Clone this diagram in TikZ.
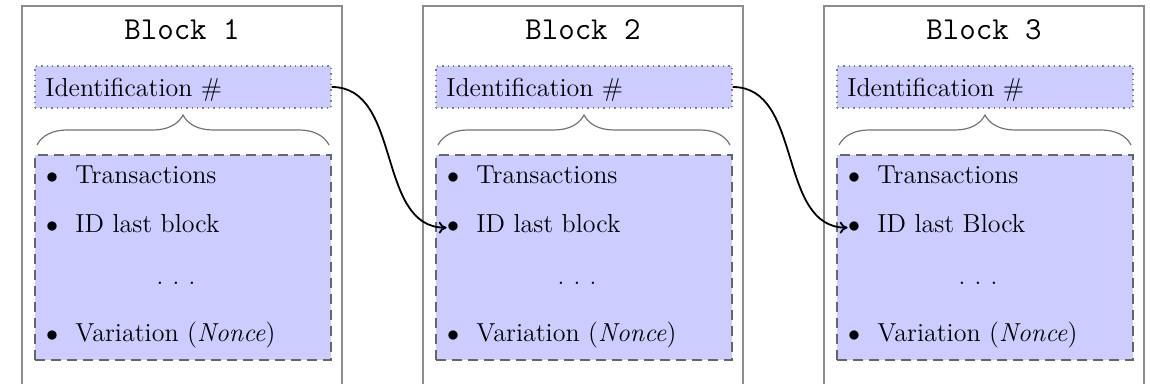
\documentclass[tikz,border=0pt]{standalone}
\usetikzlibrary{decorations.pathreplacing,arrows.meta}
\tikzset{
  frame/.style={draw=black!45,line width=0.7pt},
  idbox/.style={draw=black!50,fill=blue!20,dotted,line width=0.7pt,minimum width=148pt,minimum height=21pt,inner sep=0pt},
  listbox/.style={draw=black!60,fill=blue!20,dash pattern=on 5pt off 3pt,line width=0.7pt,minimum width=148pt,minimum height=102.5pt,inner sep=0pt},
  bracestyle/.style={draw=black!55,line width=0.6pt,decorate,decoration={brace,amplitude=15pt}},
  title/.style={font=\fontsize{16}{19}\selectfont\ttfamily,anchor=base,inner sep=0pt},
  txt/.style={font=\fontsize{13}{15}\selectfont,anchor=base west,inner sep=0pt},
  bul/.style={font=\fontsize{12.5}{15}\selectfont,anchor=base,inner sep=0pt},
  link/.style={-{To[length=4pt,width=6pt]},line width=0.9pt,black}
}
\begin{document}
\begin{tikzpicture}[x=0.5pt,y=-0.5pt]
\useasboundingbox (0,0) rectangle (1150,384);
\foreach \i/\lbl in {1/block,2/block,3/Block}{
  \pgfmathsetmacro{\o}{(\i-1)*401}
  \draw[frame] (22+\o,384) -- (22+\o,6) -- (342+\o,6) -- (342+\o,384);
  \node[title] (t\i) at (182+\o,40) {Block \i};
  \node[idbox] (id\i) at (183+\o,87) {};
  \node[txt] (idt\i) at (45+\o,97) {Identification \#};
  \draw[bracestyle] (37+\o,145) -- (329+\o,145);
  \node[listbox] (lb\i) at (183+\o,257.5) {};
  \node[bul] (ba\i) at (52+\o,184) {$\bullet$};
  \node[txt] (ta\i) at (75+\o,184) {Transactions};
  \node[bul] (bl\i) at (52+\o,233) {$\bullet$};
  \node[txt] (tb\i) at (75+\o,233) {ID last \lbl};
  \node[bul] (dd\i) at (176+\o,285) {.\hspace{4.6pt}.\hspace{4.6pt}.};
  \node[bul] (bc\i) at (52+\o,342) {$\bullet$};
  \node[txt] (tc\i) at (75+\o,342) {Variation (\textit{Nonce})};
}
\draw[link] (id1.east) to[out=0,in=180] (bl2.west);
\draw[link] (id2.east) to[out=0,in=180] (bl3.west);
\end{tikzpicture}
\end{document}
